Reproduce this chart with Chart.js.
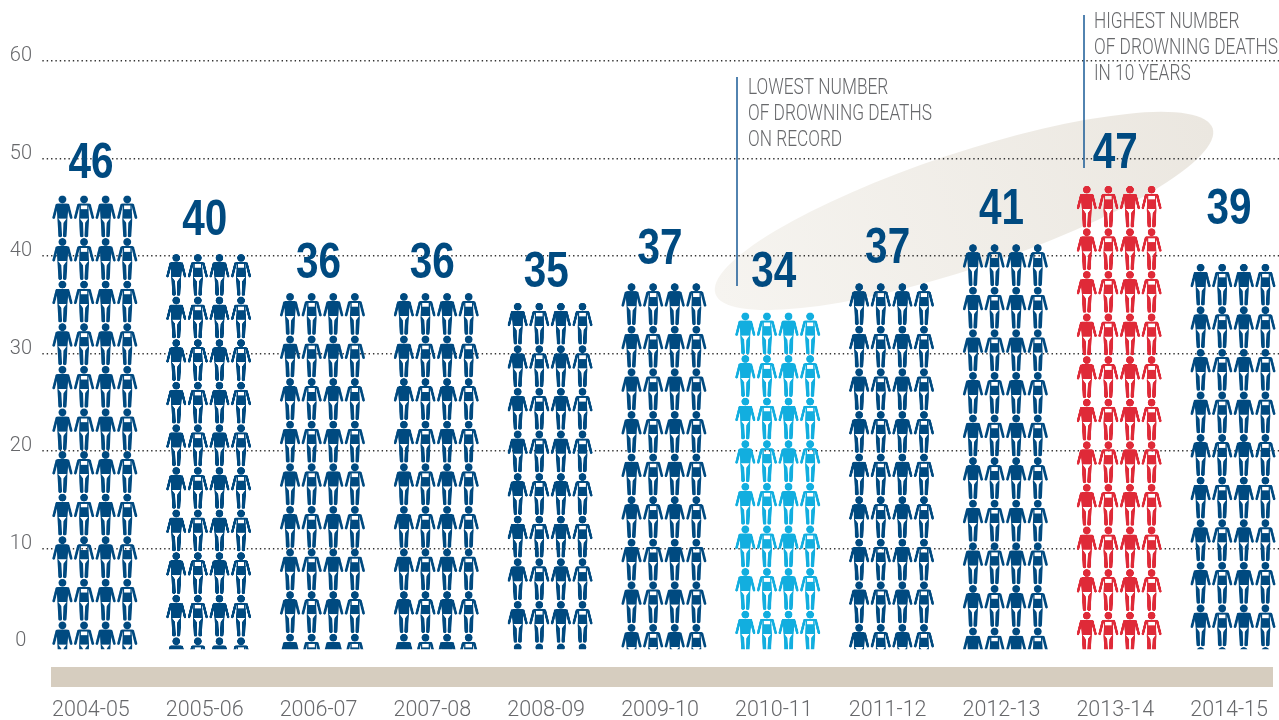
<!DOCTYPE html>
<html>
<head>
<meta charset="utf-8">
<style>
html,body{margin:0;padding:0;background:#fff;overflow:hidden;width:1279px;height:720px}
#wrap{width:1279px;height:720px;overflow:hidden;position:relative}
canvas{display:block}
</style>
<script src="https://cdn.jsdelivr.net/npm/chart.js@4"></script>
</head>
<body>
<div id="wrap"><canvas id="c" width="1290" height="720" style="width:1290px;height:720px"></canvas></div>
<script>
const seasons = ['2004-05','2005-06','2006-07','2007-08','2008-09','2009-10','2010-11','2011-12','2012-13','2013-14','2014-15'];
const deaths = [46,40,36,36,35,37,34,37,41,47,39];
const yTicks = [0,10,20,30,40,50,60];
const lowestNote = ['LOWEST NUMBER','OF DROWNING DEATHS','ON RECORD'];
const highestNote = ['HIGHEST NUMBER','OF DROWNING DEATHS','IN 10 YEARS'];
const labelLift = [18,19,15,15,16,19,26,20,20,18,40];

const NAVY='#004a80', SKY='#12aedf', RED='#df2a38', GREY='#67686b', TAN='#d6cdbf';
const LOW=Math.min(...deaths), HIGH=Math.max(...deaths);
const PITCH_Y=42.6, PITCH_X=21.6, SS=2;

function person(g,x,y,variant,color){
  g.save(); g.translate(x,y);
  g.fillStyle=color; g.strokeStyle=color; g.lineCap='round'; g.lineJoin='round';
  g.beginPath(); g.arc(10,3.9,3.9,0,Math.PI*2); g.fill();
  g.lineWidth=2.7;
  g.beginPath(); g.moveTo(4.4,9.6); g.lineTo(1.3,22); g.stroke();
  g.beginPath(); g.moveTo(15.6,9.6); g.lineTo(18.7,22); g.stroke();
  // legs
  g.lineWidth=3.7;
  g.beginPath(); g.moveTo(6.9,24); g.lineTo(7.7,39.9); g.stroke();
  g.beginPath(); g.moveTo(13.1,24); g.lineTo(12.3,39.9); g.stroke();
  if(variant){
    g.beginPath(); g.moveTo(4.5,8); g.lineTo(15.5,8); g.lineTo(15.5,10); g.lineTo(4.5,10); g.closePath(); g.fill();
    g.fillRect(5.5,9,1.3,6); g.fillRect(13.2,9,1.3,6);
    g.beginPath(); g.moveTo(5.5,13.6); g.lineTo(14.5,13.6); g.lineTo(14.9,23); g.lineTo(5.1,23); g.closePath(); g.fill();
  }else{
    g.beginPath(); g.moveTo(5,8); g.lineTo(15,8); g.lineTo(16,10); g.lineTo(15,23.5); g.lineTo(5,23.5); g.lineTo(4,10); g.closePath(); g.fill();
  }
  // white briefs
  g.fillStyle='#fff';
  g.beginPath(); g.moveTo(5.8,23); g.lineTo(14.2,23); g.lineTo(10.9,27.4); g.lineTo(9.1,27.4); g.closePath(); g.fill();
  g.fillRect(9.55,27,0.9,15);
  g.restore();
}

const tiles={};
function tile(color){
  if(tiles[color]) return tiles[color];
  const cv=document.createElement('canvas');
  cv.width=Math.round(88*SS); cv.height=Math.round(PITCH_Y*SS);
  const g=cv.getContext('2d');
  g.scale(SS,cv.height/PITCH_Y);
  for(let i=0;i<4;i++) person(g,0.5+i*PITCH_X,0,i%2,color);
  return tiles[color]=cv;
}
function barColor(v){return v===LOW?SKY:v===HIGH?RED:NAVY;}

function pictoFill(ctx){
  const v=deaths[ctx.dataIndex];
  if(ctx.dataIndex===undefined) return NAVY;
  const ch=ctx.chart;
  const cv=tile(barColor(v));
  const pat=ch.ctx.createPattern(cv,'repeat');
  const x=ch.scales.x.getPixelForTick(ctx.dataIndex)-43;
  const y=ch.scales.yBars.getPixelForValue(v);
  pat.setTransform(new DOMMatrix().translate(x,y).scale(1/SS,PITCH_Y/cv.height));
  return pat;
}

const decorations={
  id:'decorations',
  beforeDraw(ch){
    const g=ch.ctx;
    g.save();
    g.translate(964,211); g.rotate(-18.4*Math.PI/180);
    const gr=g.createLinearGradient(-262,0,262,0);
    gr.addColorStop(0,'#f6f4f0'); gr.addColorStop(1,'#ebe7e0');
    g.fillStyle=gr;
    g.beginPath(); g.ellipse(0,0,262,57.6,0,0,Math.PI*2); g.fill();
    g.restore();
    g.fillStyle=TAN; g.fillRect(51,667,1222,20);
  },
  beforeDatasetsDraw(ch){
    // gridlines start just right of the chart-area edge
    ch.ctx.fillStyle='#fff';
    ch.ctx.fillRect(36,50,4.5,610);
  },
  afterDatasetsDraw(ch){
    const g=ch.ctx, xs=ch.scales.x, ys=ch.scales.yBars;
    g.save();
    g.font='bold 50px "Liberation Sans"'; g.fillStyle=NAVY;
    g.textAlign='center'; g.textBaseline='alphabetic';
    deaths.forEach((v,i)=>{
      g.save();
      g.translate(xs.getPixelForTick(i)-4,ys.getPixelForValue(v)-labelLift[i]);
      g.scale(0.81,1);
      g.fillText(String(v),0,0);
      g.restore();
    });
    const note=(lines,lx,top,bottom,tx,base)=>{
      g.strokeStyle='#185a96'; g.lineWidth=1.5;
      g.beginPath(); g.moveTo(lx,top); g.lineTo(lx,bottom); g.stroke();
      g.fillStyle=GREY; g.textAlign='left'; g.font='300 22px Roboto';
      lines.forEach((t,i)=>{
        g.save(); g.translate(tx,base+i*26); g.scale(0.785,1); g.fillText(t,0,0); g.restore();
      });
    };
    note(lowestNote,737,77,286,748,93.5);
    note(highestNote,1084,15,168,1094,28);
    g.restore();
  }
};

new Chart(document.getElementById('c'),{
  type:'bar',
  data:{labels:seasons,datasets:[{
    data:deaths,
    yAxisID:'yBars',
    base:-0.5,
    clip:false,
    barThickness:86,
    borderWidth:0,
    backgroundColor:pictoFill
  }]},
  options:{
    responsive:false,animation:false,devicePixelRatio:1,
    layout:{padding:{top:61,left:0,right:0,bottom:0}},
    plugins:{legend:{display:false},tooltip:{enabled:false}},
    scales:{
      x:{
        offset:true,
        grid:{display:false,drawTicks:false},
        border:{display:false},
        afterFit(s){s.height=74;s.paddingLeft=0;s.paddingRight=0;},
        ticks:{autoSkip:false,maxRotation:0,minRotation:0,labelOffset:-4,padding:52,color:GREY,font:{family:'Roboto',weight:'300',size:21.5}}
      },
      y:{
        min:0,max:60,
        afterBuildTicks(s){s.ticks=yTicks.map(value=>({value}));},
        afterFit(s){s.width=38;},
        grid:{drawTicks:false,lineWidth:1.4,color:c=>c.tick&&c.tick.value===0?'rgba(0,0,0,0)':'#333'},
        border:{display:false,dash:[1.4,2.95]},
        ticks:{padding:6,crossAlign:'center',labelOffset:-5,color:GREY,font:{family:'Roboto',weight:'300',size:20}}
      },
      yBars:{display:false,min:-0.205,max:59.795}
    }
  },
  plugins:[decorations]
});
</script>
</body>
</html>
